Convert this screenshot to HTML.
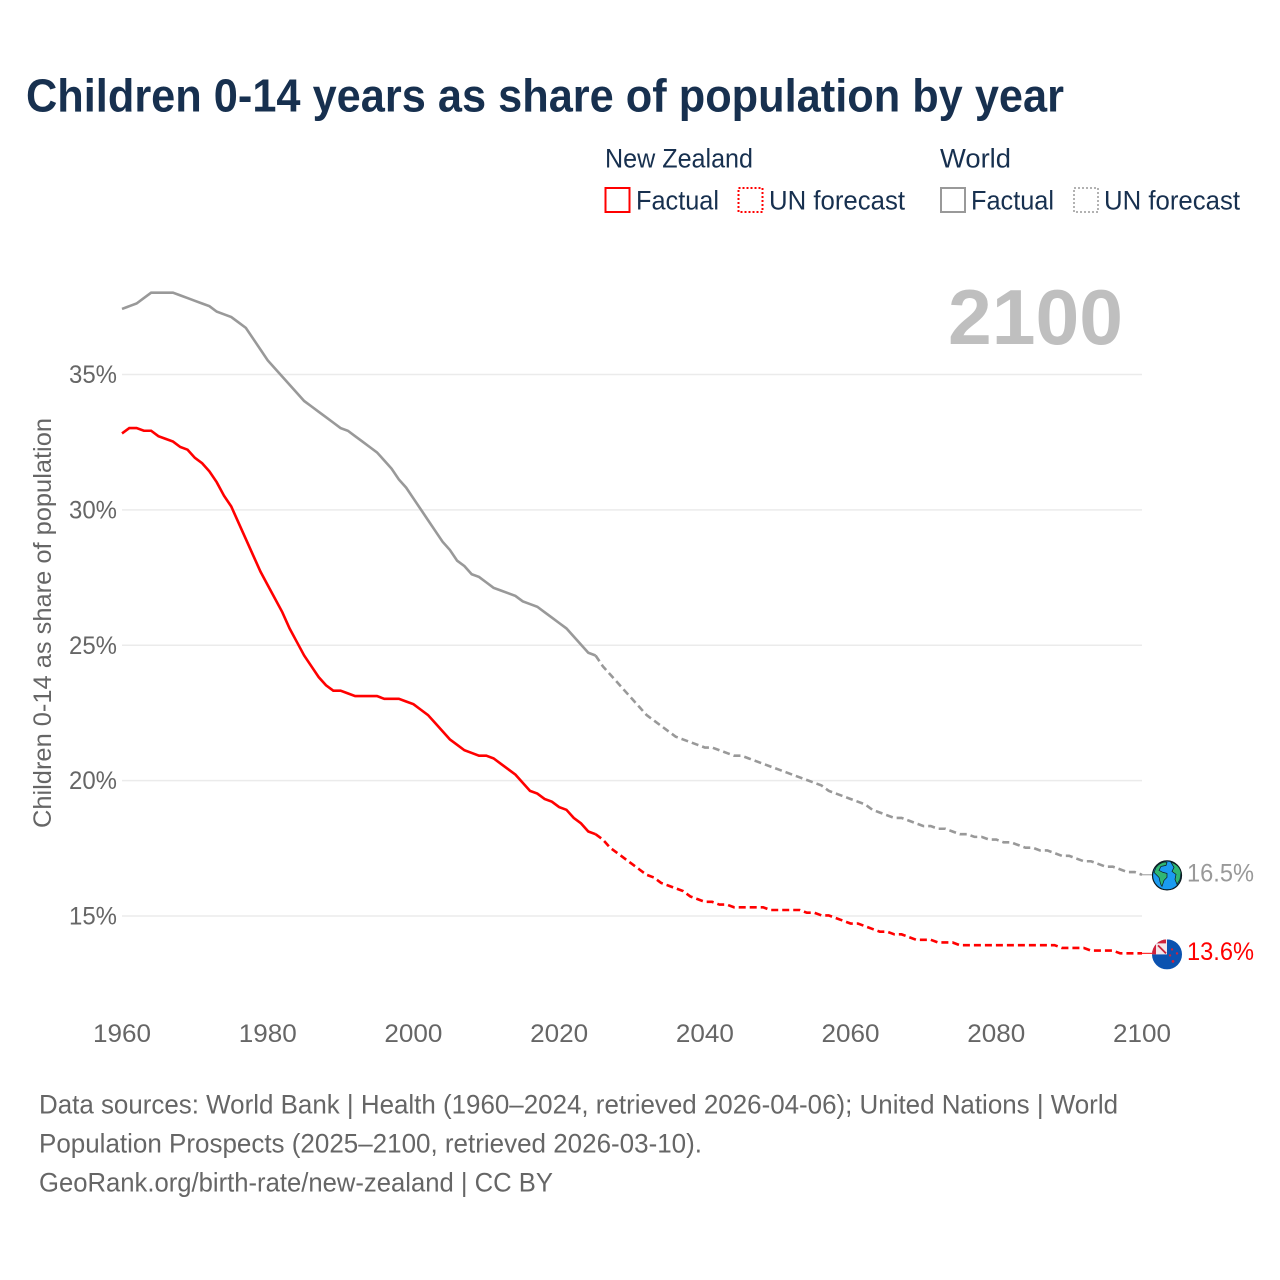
<!DOCTYPE html>
<html lang="en">
<head>
<meta charset="utf-8">
<title>Children 0-14 years as share of population by year</title>
<style>
html,body{margin:0;padding:0;background:#fff;width:1280px;height:1280px;overflow:hidden}
svg{display:block}
text{font-family:"Liberation Sans",sans-serif}
</style>
</head>
<body>
<svg id="chart" xmlns="http://www.w3.org/2000/svg" width="1280" height="1280" viewBox="0 0 1280 1280">
  <rect x="0" y="0" width="1280" height="1280" fill="#ffffff"/>
  <text x="26" y="111.500" font-size="46" font-weight="700" fill="#17304f" textLength="1038" lengthAdjust="spacingAndGlyphs">Children 0-14 years as share of population by year</text>

  <g font-size="27" fill="#17304f">
    <text x="605" y="167.500" textLength="148" lengthAdjust="spacingAndGlyphs">New Zealand</text>
    <text x="940" y="167.500" textLength="71" lengthAdjust="spacingAndGlyphs">World</text>
    <rect x="605.500" y="188" width="24" height="24" fill="none" stroke="#ff0000" stroke-width="2"/>
    <text x="636" y="209.500" textLength="83" lengthAdjust="spacingAndGlyphs">Factual</text>
    <rect x="738.500" y="188" width="24" height="24" fill="none" stroke="#ff0000" stroke-width="2" stroke-dasharray="2 2"/>
    <text x="769" y="209.500" textLength="136" lengthAdjust="spacingAndGlyphs">UN forecast</text>
    <rect x="941" y="188" width="24" height="24" fill="none" stroke="#999999" stroke-width="2"/>
    <text x="971" y="209.500" textLength="83" lengthAdjust="spacingAndGlyphs">Factual</text>
    <rect x="1074" y="188" width="24" height="24" fill="none" stroke="#999999" stroke-width="1.500" stroke-dasharray="2 2"/>
    <text x="1104" y="209.500" textLength="136" lengthAdjust="spacingAndGlyphs">UN forecast</text>
  </g>

  <text x="948" y="344" font-size="78" font-weight="700" fill="#bfbfbf" textLength="175" lengthAdjust="spacingAndGlyphs">2100</text>
  <text transform="translate(51,828) rotate(-90)" font-size="25" fill="#666666" textLength="410" lengthAdjust="spacingAndGlyphs">Children 0-14 as share of population</text>

  <g id="grid"></g>
  <g id="y-ticks"></g>
  <g id="x-ticks"></g>
  <g id="series"></g>

  <g id="world-icon">
    <circle cx="0" cy="0" r="14.500" fill="#1b9bf0" stroke="#0b1a20" stroke-width="1.200"/>
    <path d="M-11-8C-7-13-2-14 0-13L-1-10-6-9-8-5-4-3 0-2 0 2-3 5-5 11C-7 9-7 5-8 2L-13-3Z" fill="#2fb673" stroke="#0b1a20" stroke-width="0.700"/>
    <path d="M4-13C9-12 13-8 14-3L13 4 10 9 8 4 9-1 5-4 7-8Z" fill="#2fb673" stroke="#0b1a20" stroke-width="0.700"/>
  </g>
  <g id="nz-icon">
    <clipPath id="nz-clip"><circle cx="0" cy="0" r="15"/></clipPath>
    <g clip-path="url(#nz-clip)">
      <rect x="-15" y="-15" width="30" height="30" fill="#0b52b0"/>
      <rect x="-15" y="-15" width="15" height="15" fill="#f4e6ea"/>
      <path d="M-15-15H-1V-11H-11V0H-15Z" fill="#d0213a"/>
      <path d="M-9-9L-1-1" stroke="#c8203a" stroke-width="1.800"/>
      <circle cx="5" cy="-5" r="1.200" fill="#d0213a"/>
      <circle cx="3" cy="1" r="1.200" fill="#d0213a"/>
      <circle cx="10" cy="-1" r="1.200" fill="#d0213a"/>
      <circle cx="6" cy="7" r="1.400" fill="#d0213a"/>
    </g>
  </g>

  <g font-size="27" fill="#666666">
    <text x="39" y="1113.500" textLength="1079" lengthAdjust="spacingAndGlyphs">Data sources: World Bank | Health (1960–2024, retrieved 2026-04-06); United Nations | World</text>
    <text x="39" y="1152.500" textLength="663" lengthAdjust="spacingAndGlyphs">Population Prospects (2025–2100, retrieved 2026-03-10).</text>
    <text x="39" y="1191.500" textLength="514" lengthAdjust="spacingAndGlyphs">GeoRank.org/birth-rate/new-zealand | CC BY</text>
  </g>
</svg>
<script>
const factualStartYear = 1960;
const forecastStartYear = 2025;
const nzFactual = [32.8,33.0,33.0,32.9,32.9,32.7,32.6,32.5,32.3,32.2,31.9,31.7,31.4,31.0,30.5,30.1,29.5,28.9,28.3,27.7,27.2,26.7,26.2,25.6,25.1,24.6,24.2,23.8,23.5,23.3,23.3,23.2,23.1,23.1,23.1,23.1,23.0,23.0,23.0,22.9,22.8,22.6,22.4,22.1,21.8,21.5,21.3,21.1,21.0,20.9,20.9,20.8,20.6,20.4,20.2,19.9,19.6,19.5,19.3,19.2,19.0,18.9,18.6,18.4,18.1,18.0];
const nzForecast = [18.0,17.8,17.5,17.3,17.1,16.9,16.7,16.5,16.4,16.2,16.1,16.0,15.9,15.7,15.6,15.5,15.5,15.4,15.4,15.3,15.3,15.3,15.3,15.3,15.2,15.2,15.2,15.2,15.2,15.1,15.1,15.0,15.0,14.9,14.8,14.7,14.7,14.6,14.5,14.4,14.4,14.3,14.3,14.2,14.1,14.1,14.1,14.0,14.0,14.0,13.9,13.9,13.9,13.9,13.9,13.9,13.9,13.9,13.9,13.9,13.9,13.9,13.9,13.9,13.8,13.8,13.8,13.8,13.7,13.7,13.7,13.7,13.6,13.6,13.6,13.6];
const worldFactual = [37.4,37.5,37.6,37.8,38.0,38.0,38.0,38.0,37.9,37.8,37.7,37.6,37.5,37.3,37.2,37.1,36.9,36.7,36.3,35.9,35.5,35.2,34.9,34.6,34.3,34.0,33.8,33.6,33.4,33.2,33.0,32.9,32.7,32.5,32.3,32.1,31.8,31.5,31.1,30.8,30.4,30.0,29.6,29.2,28.8,28.5,28.1,27.9,27.6,27.5,27.3,27.1,27.0,26.9,26.8,26.6,26.5,26.4,26.2,26.0,25.8,25.6,25.3,25.0,24.7,24.6];
const worldForecast = [24.6,24.2,23.9,23.6,23.3,23.0,22.7,22.4,22.2,22.0,21.8,21.6,21.5,21.4,21.3,21.2,21.2,21.1,21.0,20.9,20.9,20.8,20.7,20.6,20.5,20.4,20.3,20.2,20.1,20.0,19.9,19.8,19.6,19.5,19.4,19.3,19.2,19.1,18.9,18.8,18.7,18.6,18.6,18.5,18.4,18.3,18.3,18.2,18.2,18.1,18.0,18.0,17.9,17.9,17.8,17.8,17.7,17.7,17.6,17.5,17.5,17.4,17.4,17.3,17.2,17.2,17.1,17.0,17.0,16.9,16.8,16.8,16.7,16.6,16.6,16.5];
const xTickLabels = [1960,1980,2000,2020,2040,2060,2080,2100];
const yTickLabels = [15,20,25,30,35];

const svgNS = 'http://www.w3.org/2000/svg';
function xScale(year) { return 122 + (year - 1960) * (1142 - 122) / 140; }
function yScale(value) { return 916 - (value - 15) * (916 - 374.5) / 20; }
function linePath(values, startYear) {
  return values.map(function (v, i) {
    return (i ? 'L' : 'M') + xScale(startYear + i).toFixed(2) + ' ' + (yScale(v) - 0.6).toFixed(2);
  }).join('');
}

const gridGroup = document.getElementById('grid');
const yTickGroup = document.getElementById('y-ticks');
yTickLabels.forEach(function (t) {
  const line = document.createElementNS(svgNS, 'line');
  
  
  line.setAttribute('x1', xScale(1960));
  line.setAttribute('x2', xScale(2100));
  line.setAttribute('y1', yScale(t));
  line.setAttribute('y2', yScale(t));
  line.setAttribute('stroke', '#ebebeb');
  line.setAttribute('stroke-width', '1.500');
  gridGroup.appendChild(line);

  const label = document.createElementNS(svgNS, 'text');
  
  
  label.setAttribute('x', 69);
  label.setAttribute('y', yScale(t) + 8.5);
  label.setAttribute('font-size', '25');
  label.setAttribute('fill', '#666666');
  label.setAttribute('textLength', '48');
  label.setAttribute('lengthAdjust', 'spacingAndGlyphs');
  label.textContent = t + '%';
  yTickGroup.appendChild(label);
});

const xTickGroup = document.getElementById('x-ticks');
xTickLabels.forEach(function (t) {
  const label = document.createElementNS(svgNS, 'text');
  
  
  label.setAttribute('x', xScale(t) - 29);
  label.setAttribute('y', 1042);
  label.setAttribute('font-size', '25');
  label.setAttribute('fill', '#666666');
  label.setAttribute('textLength', '58');
  label.setAttribute('lengthAdjust', 'spacingAndGlyphs');
  label.textContent = t;
  xTickGroup.appendChild(label);
});

const seriesGroup = document.getElementById('series');

const worldFactualLine = document.createElementNS(svgNS, 'path');


worldFactualLine.setAttribute('d', linePath(worldFactual, factualStartYear));
worldFactualLine.setAttribute('fill', 'none');
worldFactualLine.setAttribute('stroke', '#999999');
worldFactualLine.setAttribute('stroke-width', '2.600');
seriesGroup.appendChild(worldFactualLine);

const worldForecastLine = document.createElementNS(svgNS, 'path');


worldForecastLine.setAttribute('d', linePath(worldForecast, forecastStartYear));
worldForecastLine.setAttribute('fill', 'none');
worldForecastLine.setAttribute('stroke', '#999999');
worldForecastLine.setAttribute('stroke-width', '2.600');
worldForecastLine.setAttribute('stroke-dasharray', '7 4');
seriesGroup.appendChild(worldForecastLine);

const nzFactualLine = document.createElementNS(svgNS, 'path');


nzFactualLine.setAttribute('d', linePath(nzFactual, factualStartYear));
nzFactualLine.setAttribute('fill', 'none');
nzFactualLine.setAttribute('stroke', '#ff0000');
nzFactualLine.setAttribute('stroke-width', '2.600');
seriesGroup.appendChild(nzFactualLine);

const nzForecastLine = document.createElementNS(svgNS, 'path');


nzForecastLine.setAttribute('d', linePath(nzForecast, forecastStartYear));
nzForecastLine.setAttribute('fill', 'none');
nzForecastLine.setAttribute('stroke', '#ff0000');
nzForecastLine.setAttribute('stroke-width', '2.600');
nzForecastLine.setAttribute('stroke-dasharray', '7 4');
seriesGroup.appendChild(nzForecastLine);

const worldEnd = worldForecast[worldForecast.length - 1];
const nzEnd = nzForecast[nzForecast.length - 1];

const worldConnector = document.createElementNS(svgNS, 'line');


worldConnector.setAttribute('x1', xScale(2100));
worldConnector.setAttribute('x2', xScale(2100) + 10);
worldConnector.setAttribute('y1', yScale(worldEnd) - 0.6);
worldConnector.setAttribute('y2', yScale(worldEnd) - 0.6);
worldConnector.setAttribute('stroke', '#999999');
worldConnector.setAttribute('stroke-width', '1');
seriesGroup.appendChild(worldConnector);

const nzConnector = document.createElementNS(svgNS, 'line');


nzConnector.setAttribute('x1', xScale(2100));
nzConnector.setAttribute('x2', xScale(2100) + 10);
nzConnector.setAttribute('y1', yScale(nzEnd) - 0.6);
nzConnector.setAttribute('y2', yScale(nzEnd) - 0.6);
nzConnector.setAttribute('stroke', '#ff0000');
nzConnector.setAttribute('stroke-width', '1');
seriesGroup.appendChild(nzConnector);

document.getElementById('world-icon').setAttribute('transform', 'translate(' + (xScale(2100) + 25) + ',' + yScale(worldEnd) + ')');
document.getElementById('nz-icon').setAttribute('transform', 'translate(' + (xScale(2100) + 25) + ',' + (yScale(nzEnd) + 0.5) + ')');

const worldEndLabel = document.createElementNS(svgNS, 'text');


worldEndLabel.setAttribute('x', xScale(2100) + 45);
worldEndLabel.setAttribute('y', yScale(worldEnd) + 6);
worldEndLabel.setAttribute('font-size', '25');
worldEndLabel.setAttribute('fill', '#999999');
worldEndLabel.setAttribute('textLength', '67');
worldEndLabel.setAttribute('lengthAdjust', 'spacingAndGlyphs');
worldEndLabel.textContent = worldEnd.toFixed(1) + '%';
seriesGroup.appendChild(worldEndLabel);

const nzEndLabel = document.createElementNS(svgNS, 'text');


nzEndLabel.setAttribute('x', xScale(2100) + 45);
nzEndLabel.setAttribute('y', yScale(nzEnd) + 6);
nzEndLabel.setAttribute('font-size', '25');
nzEndLabel.setAttribute('fill', '#ff0000');
nzEndLabel.setAttribute('textLength', '67');
nzEndLabel.setAttribute('lengthAdjust', 'spacingAndGlyphs');
nzEndLabel.textContent = nzEnd.toFixed(1) + '%';
seriesGroup.appendChild(nzEndLabel);
</script>
</body>
</html>
